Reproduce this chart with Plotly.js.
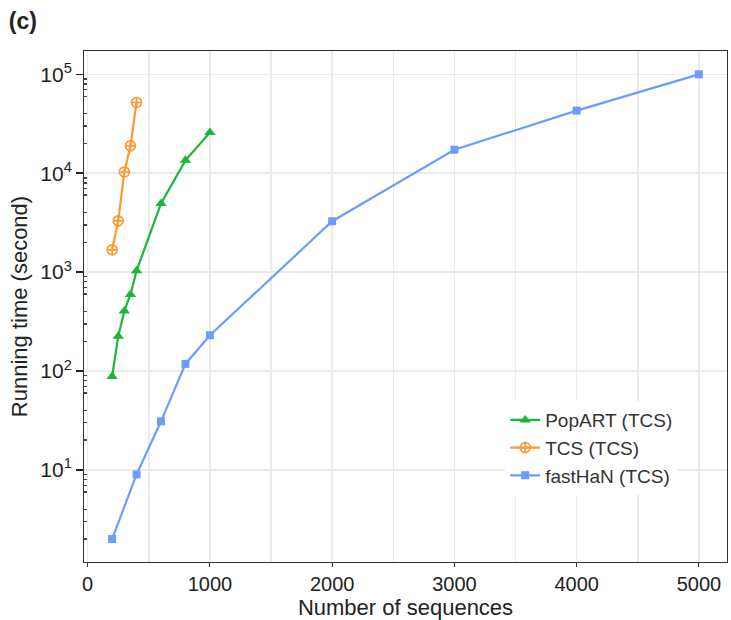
<!DOCTYPE html>
<html>
<head>
<meta charset="utf-8">
<script src="https://cdn.plot.ly/plotly-3.0.1.min.js"></script>
<style>html,body{margin:0;padding:0;background:#fff;}#chart{width:731px;height:620px;}</style>
</head>
<body>
<div id="chart"></div>
<script>
// ---- data ----
const popartN    = [200, 250, 300, 350, 400, 600, 800, 1000];
const popartTime = [88, 225, 405, 595, 1030, 4950, 13500, 25800];
const tcsN       = [200, 250, 300, 350, 400];
const tcsTime    = [1680, 3300, 10300, 18900, 52000];
const fasthanN    = [200, 400, 600, 800, 1000, 2000, 3000, 4000, 5000];
const fasthanTime = [2, 9, 31, 118, 230, 3270, 17300, 43000, 100000];
const seriesNames = ['PopART (TCS)', 'TCS (TCS)', 'fastHaN (TCS)'];
const xTickVals = [0, 1000, 2000, 3000, 4000, 5000];
const decades = [1, 2, 3, 4, 5];
const yTickText = ['10<sup>1</sup>', '10<sup>2</sup>', '10<sup>3</sup>', '10<sup>4</sup>', '10<sup>5</sup>'];

// ---- axis helper values ----
const decadeVals = decades.map(d => Math.pow(10, d));
const halfDecadeVals = [0, 1, 2, 3, 4, 5].map(d => Math.pow(10, d + 0.5));
const minorVals = [];
const fiveVals = [];
[0, 1, 2, 3, 4, 5].forEach(d => {
  [2, 3, 4, 6, 7, 8, 9].forEach(m => minorVals.push(m * Math.pow(10, d)));
  fiveVals.push(5 * Math.pow(10, d));
});

const green = '#1db53a', orange = '#ff982e', blue = '#6a9dff';
const font = 'Liberation Sans, Arial, Helvetica, sans-serif';
const yRange = [0.069, 5.236];
const gridColor = '#ebebeb';

const traces = [
  {x: popartN, y: popartTime, name: seriesNames[0], type: 'scatter', mode: 'lines+markers',
   line: {color: green, width: 2.2}, marker: {symbol: 'triangle-up', size: 10, color: green}},
  {x: tcsN, y: tcsTime, name: seriesNames[1], type: 'scatter', mode: 'lines+markers',
   line: {color: orange, width: 2.2}, marker: {symbol: 'circle-cross-open', size: 10, color: orange, line: {width: 1.6}}},
  {x: fasthanN, y: fasthanTime, name: seriesNames[2], type: 'scatter', mode: 'lines+markers',
   line: {color: blue, width: 2.2}, marker: {symbol: 'square', size: 8, color: blue}}
];

const layout = {
  width: 731, height: 620,
  margin: {l: 84, r: 4, t: 51, b: 58},
  paper_bgcolor: '#fff', plot_bgcolor: '#fff',
  font: {family: font, color: '#222'},
  title: {text: '<b>(c)</b>', x: 0.012, xanchor: 'left', xref: 'container',
          y: 0.966, yanchor: 'middle', yref: 'container', font: {size: 23, color: '#222', family: font}},
  showlegend: true,
  legend: {x: 0.655, y: 0.315, xanchor: 'left', yanchor: 'top', bgcolor: '#fff',
           font: {size: 19, family: font, color: '#333'}, tracegroupgap: 0, itemwidth: 30},
  xaxis: {
    range: [-30, 5230], tickvals: xTickVals, ticks: 'outside', ticklen: 4, tickcolor: '#333',
    showgrid: true, gridcolor: gridColor, gridwidth: 1.5, zeroline: false,
    minor: {dtick: 500, tick0: 0, showgrid: true, gridcolor: gridColor, gridwidth: 1.5, ticks: ''},
    showline: true, linecolor: '#333', linewidth: 1, mirror: true,
    tickfont: {size: 20, family: font, color: '#222'},
    title: {text: 'Number of sequences', font: {size: 22, family: font, color: '#222'}, standoff: 2}
  },
  yaxis: {
    type: 'log', range: yRange, tickvals: decadeVals, ticktext: yTickText,
    ticks: 'outside', ticklen: 7, tickcolor: '#222', tickwidth: 1.5,
    showgrid: true, gridcolor: gridColor, gridwidth: 1.5, zeroline: false,
    minor: {tickmode: 'array', tickvals: minorVals, ticks: 'inside', ticklen: 3, tickcolor: '#444', showgrid: false},
    showline: true, linecolor: '#333', linewidth: 1, mirror: true,
    tickfont: {size: 21, family: font, color: '#222'},
    title: {text: 'Running time (second)', font: {size: 22, family: font, color: '#222'}, standoff: 6}
  },
  yaxis2: {
    type: 'log', range: yRange, overlaying: 'y', anchor: 'x', side: 'left',
    tickvals: halfDecadeVals, ticks: '', showticklabels: false,
    showgrid: true, gridcolor: gridColor, gridwidth: 1.5, zeroline: false, showline: false
  },
  yaxis3: {
    type: 'log', range: yRange, overlaying: 'y', anchor: 'x', side: 'left',
    tickvals: decadeVals.concat(fiveVals), ticks: 'inside', ticklen: 6, tickcolor: '#222', tickwidth: 1.5,
    showticklabels: false, showgrid: false, zeroline: false, showline: false
  }
};

Plotly.newPlot('chart', traces, layout, {displayModeBar: false, staticPlot: true});
</script>
</body>
</html>
